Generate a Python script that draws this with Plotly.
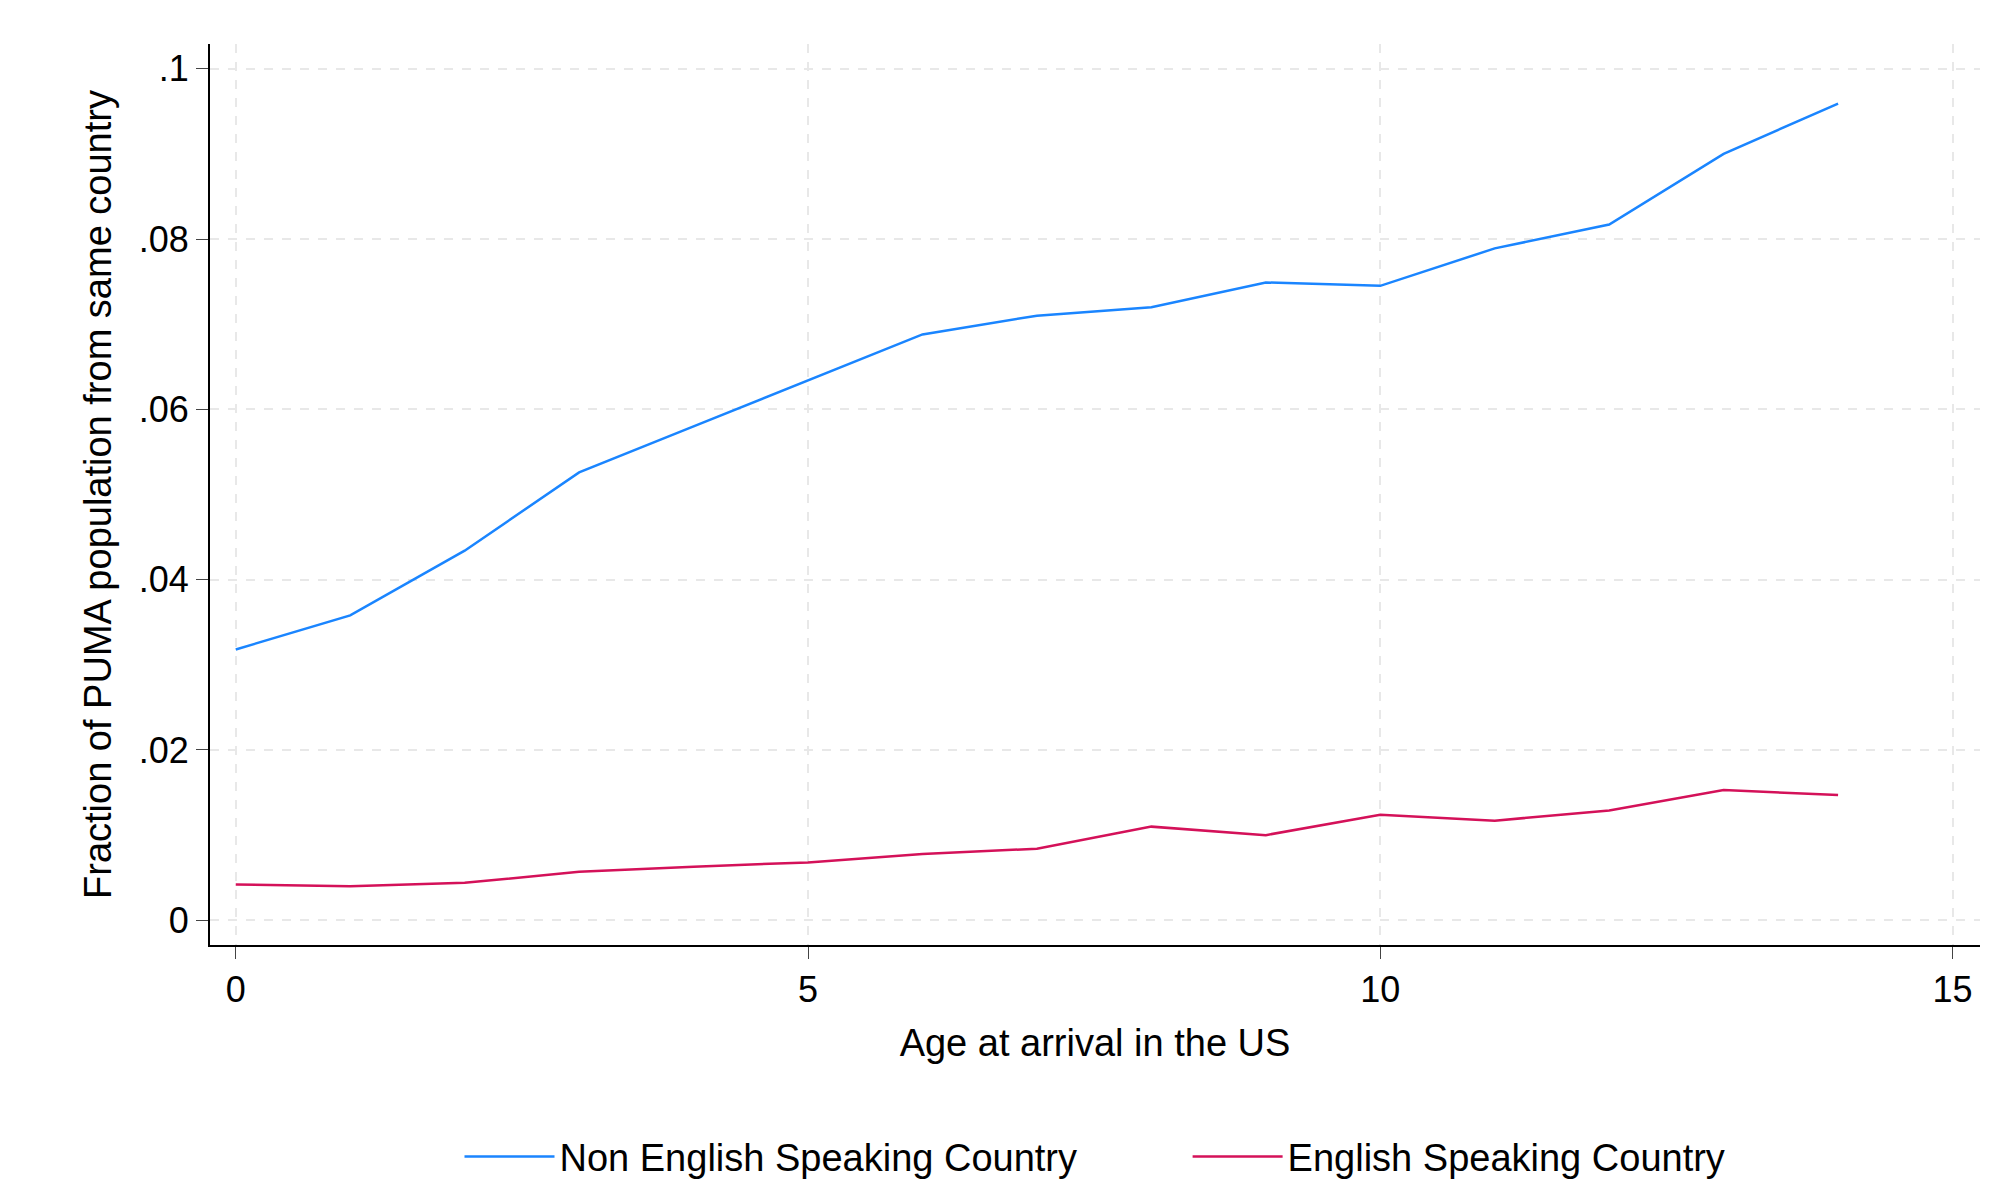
import plotly.graph_objects as go

age = list(range(15))
non_english = [.0318,.0358,.0434,.0526,.0580,.0634,.0688,.0710,.0720,.0749,.0745,.0789,.0817,.0900,.0959]
english = [.0042,.0040,.0044,.0057,.0063,.0068,.0078,.0084,.0110,.0100,.0124,.0117,.0129,.0153,.0147]
yticks = [0,.02,.04,.06,.08,.1]
yticklabels = ["0",".02",".04",".06",".08",".1"]

fig = go.Figure()
fig.add_trace(go.Scatter(x=age, y=non_english, mode="lines", name="Non English Speaking Country          ",
                         line=dict(color="#1a85ff", width=2.5)))
fig.add_trace(go.Scatter(x=age, y=english, mode="lines", name="English Speaking Country",
                         line=dict(color="#d41159", width=2.5)))
fig.update_layout(
    width=2004, height=1202, plot_bgcolor="white", paper_bgcolor="white",
    margin=dict(l=202, r=32, t=36, b=265),
    font=dict(family="Liberation Sans, Arial", size=36, color="black"),
    legend=dict(orientation="h", x=0.5, xanchor="center", y=-0.2, yanchor="top",
                font=dict(size=38), itemwidth=90),
    xaxis=dict(range=[-0.225, 15.24], tickvals=[0,5,10,15], showgrid=True,
               gridcolor="#e8e8e8", griddash="dash", gridwidth=2, zeroline=False,
               showline=True, linecolor="black", linewidth=2, ticks="outside", ticklen=12,
               title=dict(text="Age at arrival in the US", font=dict(size=38), standoff=20)),
    yaxis=dict(range=[-0.0029, 0.1029], tickvals=yticks, ticktext=yticklabels, showgrid=True,
               gridcolor="#e8e8e8", griddash="dash", gridwidth=2, zeroline=False,
               showline=True, linecolor="black", linewidth=2, ticks="outside", ticklen=12,
               title=dict(text="Fraction of PUMA population from same country", font=dict(size=38), standoff=15)),
)
fig.write_html("out.html")
